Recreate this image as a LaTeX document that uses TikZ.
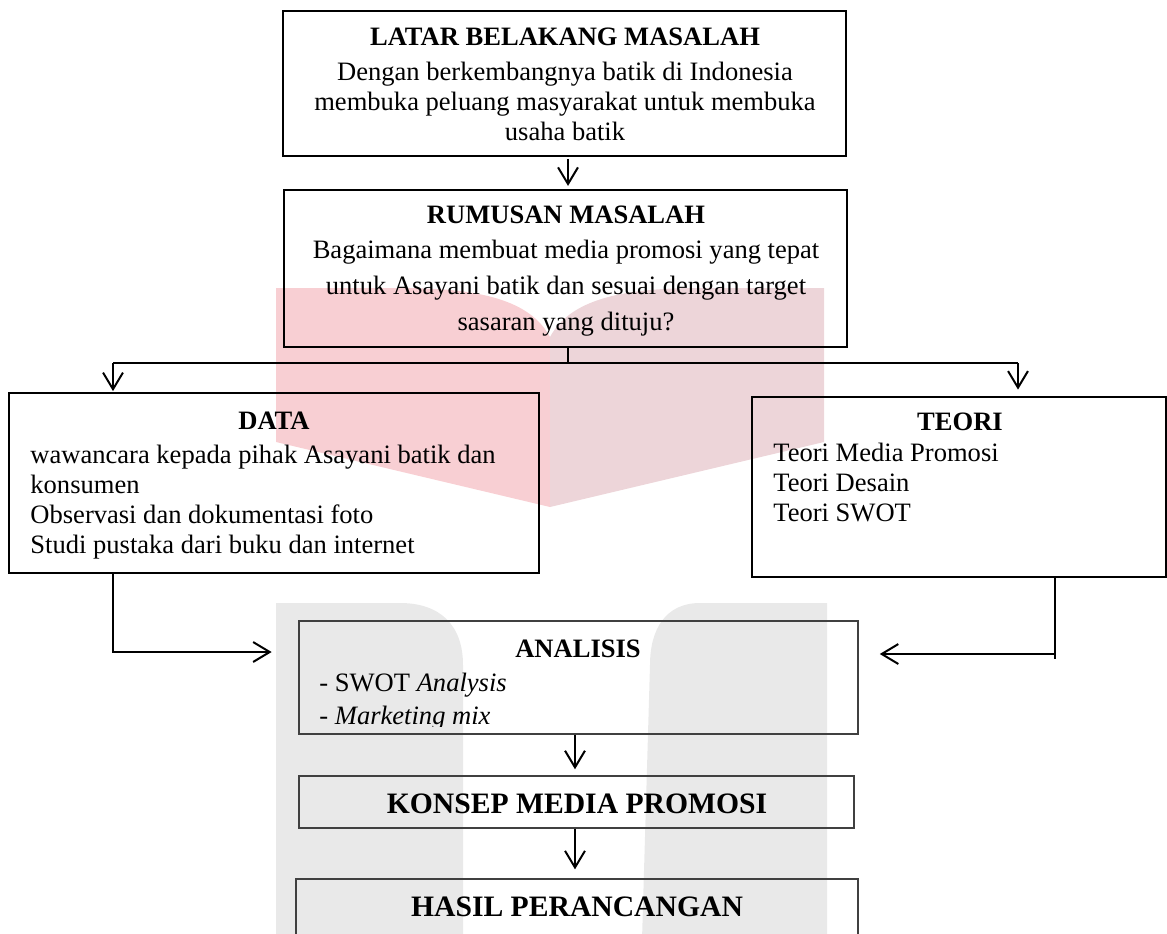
\documentclass[tikz,border=0pt]{standalone}
\usepackage{fontspec}
\setmainfont{Liberation Serif}
\usepackage{tikz}
\usetikzlibrary{arrows.meta,fit}
\definecolor{bukumerah}{RGB}{248,207,211}
\definecolor{bukuabu}{RGB}{237,213,217}
\definecolor{hurufu}{RGB}{233,233,233}

\tikzset{
  kotak/.style={draw, line width=0.7pt, inner sep=0pt},
  kotakabu/.style={kotak, draw=black!75},
  judul/.style={font=\fontsize{12}{14}\selectfont\bfseries, inner sep=0pt, anchor=base},
  judulbesar/.style={font=\fontsize{13.4}{15}\selectfont\bfseries, inner sep=0pt, anchor=base},
  isi/.style={inner sep=0pt, anchor=base},
  isikiri/.style={inner sep=0pt, anchor=base west},
  garis/.style={line width=0.9pt},
  panah/.style={garis, -{Straight Barb[length=7.5pt,width=9pt]}},
}

\begin{document}
\begin{tikzpicture}[x=0.452pt, y=-0.452pt, font=\fontsize{12}{14}\selectfont]
    \useasboundingbox (0,0) rectangle (1167,933);

    % latar belakang (watermark)
    \begin{scope}
      \fill[bukumerah] (276,288) -- (400,288) .. controls (480,288) and (530,300) .. (550,337)
        -- (550,507) -- (276,442) -- cycle;
      \fill[bukuabu] (550,337) .. controls (570,300) and (620,288) .. (700,288)
        -- (824,288) -- (824,442) -- (550,507) -- cycle;
      \fill[hurufu] (276,940) -- (276,603) -- (400,603) .. controls (440,603) and (463,625) .. (463,665)
        -- (463,940) -- cycle;
      \fill[hurufu] (827,940) -- (827,603) -- (700,603) .. controls (665,603) and (650,630) .. (650,665)
        -- (642,940) -- cycle;
    \end{scope}

    % kotak
    \node[kotak, fit={(283,11) (846,156)}] (latar) {};
    \node[kotak, fit={(284,190) (847,347)}] (rumusan) {};
    \node[kotak, fit={(9,393) (539,573)}] (data) {};
    \node[kotak, fit={(752,397) (1166,577)}] (teori) {};
    \node[kotakabu, fit={(299,621) (858,734)}] (analisis) {};
    \node[kotakabu, fit={(299,776) (854,828)}] (konsep) {};
    \node[kotakabu, fit={(296,879) (858,960)}] (hasil) {};

    % teks
    \node[judul] (latarjudul) at (565,45) {LATAR BELAKANG MASALAH};
    \node[isi] (latar1) at (565,80) {Dengan berkembangnya batik di Indonesia};
    \node[isi] (latar2) at (565,110) {membuka peluang masyarakat untuk membuka};
    \node[isi] (latar3) at (565,140) {usaha batik};

    \node[judul] (rumusanjudul) at (566,223) {RUMUSAN MASALAH};
    \node[isi] (rumusan1) at (566,258) {Bagaimana membuat media promosi yang tepat};
    \node[isi] (rumusan2) at (566,294) {untuk Asayani batik dan sesuai dengan target};
    \node[isi] (rumusan3) at (566,330) {sasaran yang dituju?};

    \node[judul] (datajudul) at (274,429) {DATA};
    \node[isikiri] (data1) at (30,463) {wawancara kepada pihak Asayani batik dan};
    \node[isikiri] (data2) at (30,493) {konsumen};
    \node[isikiri] (data3) at (30,523) {Observasi dan dokumentasi foto};
    \node[isikiri] (data4) at (30,553) {Studi pustaka dari buku dan internet};

    \node[judul] (teorijudul) at (960,430) {TEORI};
    \node[isikiri] (teori1) at (773,461) {Teori Media Promosi};
    \node[isikiri] (teori2) at (773,491) {Teori Desain};
    \node[isikiri] (teori3) at (773,521) {Teori SWOT};

    \node[judul] (analisisjudul) at (578,657) {ANALISIS};
    \begin{scope}
      \clip (299,621) rectangle (858,726);
      \node[isikiri] (analisis1) at (319,691) {- SWOT \textit{Analysis}};
      \node[isikiri] (analisis2) at (319,724) {- \textit{Marketing mix}};
    \end{scope}

    \node[judulbesar] (konsepjudul) at (577,813) {KONSEP MEDIA PROMOSI};
    \node[judulbesar] (hasiljudul) at (577,916) {HASIL PERANCANGAN};

    % panah
    \coordinate (pisah) at (568,363);
    \coordinate (kiri) at (113,363);
    \coordinate (kanan) at (1018,363);
    \coordinate (dbawah) at (113,652);
    \coordinate (tbawah) at (1055,654);
    \coordinate (tengah) at (575,0);

    \draw[panah, shorten <=1pt, shorten >=1.5pt] (latar.south -| pisah) -- (rumusan.north -| pisah);
    \draw[garis] (rumusan.south -| pisah) -- (pisah);
    \draw[garis] (kiri) -- (kanan);
    \draw[panah, shorten >=0.5pt] (kiri) -- (kiri |- data.north);
    \draw[panah, shorten >=3pt] (kanan) -- (kanan |- teori.north);

    \draw[panah, shorten >=12pt] (dbawah |- data.south) -- (dbawah) -- (dbawah -| analisis.west);
    \draw[garis] (tbawah |- teori.south) -- ++(0,81);
    \draw[panah, shorten >=9.5pt] (tbawah) -- (tbawah -| analisis.east);

    \draw[panah, shorten >=2.7pt] (analisis.south -| tengah) -- (konsep.north -| tengah);
    \draw[panah, shorten >=4pt] (konsep.south -| tengah) -- (hasil.north -| tengah);

      % \draw[help lines] (0,0) grid[step=50] (1167,933);
\end{tikzpicture}
\end{document}
